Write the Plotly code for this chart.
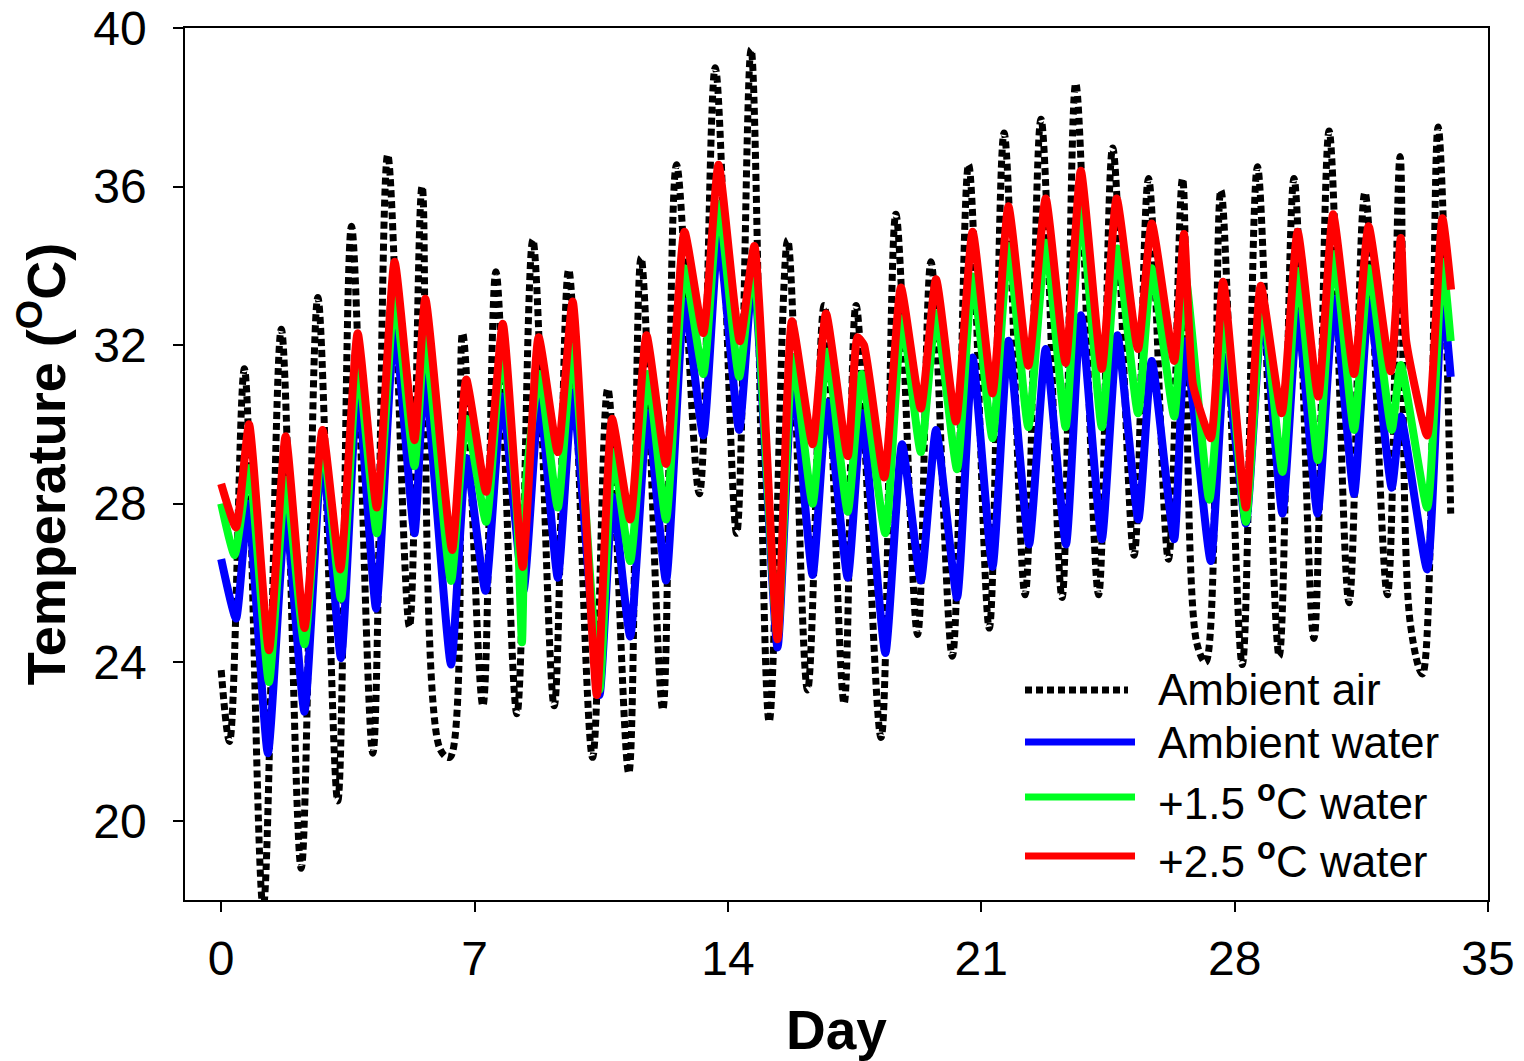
import plotly.graph_objects as go

# ---------------- data ----------------
air_day = [0.0, 0.23, 0.64, 1.16, 1.66, 2.21, 2.67, 3.22, 3.60, 4.19, 4.60, 5.20, 5.55, 6.05, 6.32,
           6.67, 7.23, 7.59, 8.17, 8.61, 9.20, 9.60, 10.26, 10.68, 11.26, 11.60, 12.20, 12.58,
           13.21, 13.65, 14.24, 14.64, 15.14, 15.65, 16.20, 16.66, 17.21, 17.54, 18.23, 18.64,
           19.24, 19.61, 20.20, 20.65, 21.22, 21.63, 22.21, 22.65, 23.23, 23.61, 24.24, 24.63,
           25.22, 25.62, 26.17, 26.56, 26.95, 27.20, 27.62, 28.21, 28.63, 29.23, 29.64, 30.19,
           30.61, 31.16, 31.60, 32.22, 32.57, 32.85, 33.19, 33.62, 33.97]
air_temp = [23.8, 22.0, 31.4, 17.8, 32.4, 18.8, 33.2, 20.5, 35.0, 21.7, 36.8, 24.9, 36.0, 21.8, 21.6,
            32.3, 22.9, 33.85, 22.7, 34.65, 22.9, 33.9, 21.6, 30.9, 21.2, 34.2, 22.8, 36.55,
            28.25, 39.0, 27.25, 39.46, 22.5, 34.65, 23.3, 33.0, 22.96, 33.0, 22.1, 35.3,
            24.7, 34.1, 24.15, 36.55, 24.86, 37.35, 25.7, 37.7, 25.63, 38.6, 25.7, 36.97,
            26.7, 36.2, 26.6, 36.2, 24.5, 24.0, 35.9, 23.94, 36.5, 24.15, 36.2, 24.6,
            37.4, 25.5, 35.85, 25.7, 36.76, 25.0, 23.7, 37.5, 27.75]

amb_day = [0.0, 0.41, 0.74, 1.29, 1.78, 2.30, 2.79, 3.31, 3.77, 4.28, 4.79, 5.34, 5.62, 6.35, 6.77,
           7.30, 7.76, 8.35, 8.79, 9.30, 9.71, 10.45, 10.82, 11.30, 11.78, 12.29, 12.80, 13.32,
           13.74, 14.31, 14.70, 15.37, 15.79, 16.34, 16.74, 17.31, 17.70, 18.35, 18.81, 19.33,
           19.75, 20.33, 20.76, 21.31, 21.75, 22.32, 22.78, 23.34, 23.75, 24.33, 24.76, 25.34,
           25.71, 26.33, 26.63, 27.34, 27.74, 28.31, 28.77, 29.32, 29.74, 30.29, 30.75, 31.30,
           31.71, 32.34, 32.59, 33.32, 33.74, 33.97]
amb_temp = [26.6, 25.1, 28.0, 21.7, 27.75, 22.75, 29.3, 24.1, 31.0, 25.35, 32.5, 27.25, 31.3, 23.94, 29.15,
            25.8, 30.7, 25.8, 30.7, 26.13, 30.8, 23.17, 28.17, 24.65, 30.28, 26.06, 33.1, 29.72,
            34.79, 29.86, 33.94, 24.37, 31.2, 26.2, 30.56, 26.13, 30.28, 24.23, 29.5, 26.06,
            29.86, 25.63, 31.69, 26.4, 32.11, 26.97, 31.9, 26.97, 32.75, 27.1, 32.25, 27.6,
            31.6, 27.1, 32.1, 26.55, 31.7, 27.5, 32.96, 27.75, 32.8, 27.75, 33.17, 28.24,
            33.1, 28.4, 30.2, 26.34, 33.24, 31.2]

p15_day = [0.0, 0.37, 0.77, 1.32, 1.78, 2.30, 2.80, 3.31, 3.77, 4.30, 4.79, 5.34, 5.63, 6.35, 6.77,
           7.32, 7.76, 8.18, 8.31, 8.42, 8.79, 9.30, 9.71, 10.45, 10.82, 11.30, 11.78, 12.29,
           12.80, 13.32, 13.74, 14.31, 14.70, 15.37, 15.79, 16.34, 16.74, 17.31, 17.70, 18.35,
           18.81, 19.33, 19.75, 20.33, 20.76, 21.31, 21.75, 22.30, 22.78, 23.33, 23.75, 24.33,
           24.76, 25.33, 25.71, 26.33, 26.63, 27.30, 27.74, 28.31, 28.77, 29.32, 29.74, 30.30,
           30.75, 31.30, 31.71, 32.34, 32.59, 33.32, 33.74, 33.97]
p15_temp = [28.0, 26.7, 28.9, 23.5, 28.6, 24.45, 29.6, 25.6, 31.55, 27.25, 33.24, 28.95, 32.2, 26.05, 30.14,
            27.54, 31.97, 27.6, 24.5, 28.5, 31.27, 27.9, 31.97, 23.3, 29.3, 26.55, 31.27, 27.6,
            33.94, 31.27, 35.56, 31.2, 34.08, 24.65, 31.7, 28.0, 31.83, 27.8, 31.27, 27.25,
            32.68, 29.3, 32.8, 28.87, 33.73, 29.65, 34.5, 29.93, 34.58, 29.93, 35.5, 29.93,
            34.44, 30.28, 33.94, 30.2, 33.8, 28.1, 32.68, 27.54, 33.1, 28.8, 33.87, 29.1,
            34.3, 29.86, 33.94, 29.86, 31.5, 27.9, 34.1, 32.1]

p25_day = [0.0, 0.41, 0.77, 1.32, 1.78, 2.30, 2.80, 3.29, 3.77, 4.30, 4.79, 5.34, 5.64, 6.38, 6.77,
           7.32, 7.78, 8.33, 8.77, 9.30, 9.71, 10.38, 10.80, 11.30, 11.75, 12.29, 12.80, 13.32,
           13.74, 14.33, 14.73, 15.37, 15.77, 16.34, 16.71, 17.31, 17.58, 17.76, 18.32, 18.78,
           19.33, 19.75, 20.30, 20.76, 21.31, 21.75, 22.30, 22.78, 23.33, 23.75, 24.33, 24.74,
           25.33, 25.71, 26.33, 26.60, 26.85, 27.34, 27.68, 28.31, 28.72, 29.30, 29.74, 30.31,
           30.72, 31.30, 31.70, 32.31, 32.59, 32.74, 33.32, 33.74, 33.98]
p25_temp = [28.5, 27.4, 30.0, 24.3, 29.7, 24.86, 29.86, 26.34, 32.3, 27.9, 34.1, 29.6, 33.17, 26.83, 31.13,
            28.3, 32.54, 26.4, 32.2, 29.3, 33.1, 23.17, 30.14, 27.6, 32.25, 29.0, 34.86, 32.3,
            36.55, 32.1, 34.5, 24.58, 32.6, 29.5, 32.8, 29.2, 32.2, 32.0, 28.66, 33.45,
            30.4, 33.66, 30.07, 34.86, 30.78, 35.5, 31.48, 35.7, 31.55, 36.4, 31.4, 35.7,
            31.9, 35.07, 31.6, 34.8, 31.0, 29.65, 33.6, 27.9, 33.5, 30.28, 34.86, 30.7,
            35.3, 31.27, 35.0, 31.34, 34.7, 32.1, 29.72, 35.2, 33.4]

series_names = ["Ambient air", "Ambient water",
                "+1.5 <sup><b>o</b></sup>C water", "+2.5 <sup><b>o</b></sup>C water"]
series_colors = ["black", "#0000ff", "#00ff22", "#ff0000"]
x_ticks = [0, 7, 14, 21, 28, 35]
y_ticks = [20, 24, 28, 32, 36, 40]

# ---------------- figure ----------------
# the page body has an 8 px margin, so the figure is 8 px smaller and margins shifted
W, H = 1516, 1053
ML, MT = 177, 20
PW, PH = 1303, 872
MR = W - ML - PW
MB = H - MT - PH

fig = go.Figure()
AIR_DASH = "7px,4px"
fig.add_trace(go.Scatter(x=air_day, y=air_temp, mode="lines", name=series_names[0],
                         line=dict(color=series_colors[0], width=7, dash=AIR_DASH,
                                   shape="spline", smoothing=1.0)))
for d, t, nm, c in [(amb_day, amb_temp, series_names[1], series_colors[1]),
                    (p15_day, p15_temp, series_names[2], series_colors[2]),
                    (p25_day, p25_temp, series_names[3], series_colors[3])]:
    fig.add_trace(go.Scatter(x=d, y=t, mode="lines", name=nm,
                             line=dict(color=c, width=8, shape="spline", smoothing=0.5)))

FONT = "Liberation Sans, Arial, Helvetica, sans-serif"
fig.update_layout(
    width=W, height=H,
    margin=dict(l=ML, r=MR, t=MT, b=MB, autoexpand=False),
    plot_bgcolor="white", paper_bgcolor="white",
    showlegend=False,
    font=dict(family=FONT, color="black"),
    xaxis=dict(range=[-1, 35], tickvals=x_ticks, ticks="outside", ticklen=10, tickwidth=1.5,
               tickcolor="black", showline=True, linecolor="black", linewidth=1.5, mirror=True,
               showgrid=False, zeroline=False, tickfont=dict(size=48), ticklabelstandoff=6,
               automargin=False, ticklabeloverflow="allow",
               title=dict(text="Day", font=dict(size=55, weight="bold"), standoff=28)),
    yaxis=dict(range=[18, 40], tickvals=y_ticks, ticks="outside", ticklen=10, tickwidth=1.5,
               tickcolor="black", showline=True, linecolor="black", linewidth=1.5, mirror=True,
               showgrid=False, zeroline=False, tickfont=dict(size=48), ticklabelstandoff=17,
               automargin=False, ticklabeloverflow="allow",
               title=dict(text="Temperature (<sup>O</sup>C)", font=dict(size=54, weight="bold"),
                          standoff=14)),
)

# manual legend (inside plot, lower right); positions given in reference pixels
def px_x(px):
    return (px - 185) / float(PW)

def px_y(py):
    return (900 - py) / float(PH)

leg_line_y = [690, 742, 797, 856]
leg_text_y = [689, 742, 800, 858]
for i in range(4):
    dash = AIR_DASH if i == 0 else "solid"
    x1 = 1128 if i == 0 else 1135
    fig.add_shape(type="line", xref="paper", yref="paper",
                  x0=px_x(1025), x1=px_x(x1), y0=px_y(leg_line_y[i]), y1=px_y(leg_line_y[i]),
                  line=dict(color=series_colors[i], width=7, dash=dash))
    fig.add_annotation(xref="paper", yref="paper", x=px_x(1156), y=px_y(leg_text_y[i]),
                       xanchor="left", yanchor="middle", showarrow=False,
                       text=series_names[i], font=dict(size=44, color="black", family=FONT))

fig.write_html("out.html")
